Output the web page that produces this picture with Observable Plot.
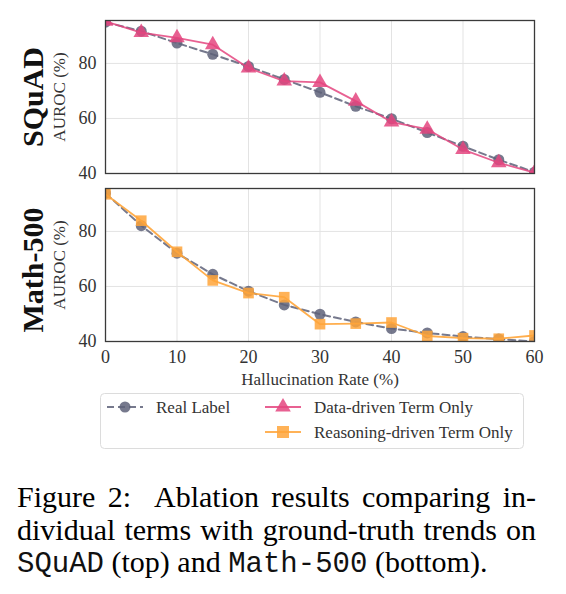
<!DOCTYPE html>
<html>
<head>
<meta charset="utf-8">
<script src="https://cdn.jsdelivr.net/npm/d3@7"></script>
<script src="https://cdn.jsdelivr.net/npm/@observablehq/plot@0.6"></script>
<style>
  html, body { margin: 0; padding: 0; background: #fff; }
  #wrap { position: relative; width: 566px; height: 594px; overflow: hidden; }
  #chart { position: absolute; left: 0; top: 0; }
  #legend { position: absolute; left: 0; top: 391px; }
  #caption { position: absolute; left: 17px; top: 481px; width: 519px;
    font-family: "Liberation Serif", "Times New Roman", serif; font-size: 30px; line-height: 32.5px; color: #000; }
  #caption .j { text-align: justify; text-align-last: justify; white-space: nowrap; }
  #caption .tt { font-family: "Liberation Mono", "Courier New", monospace; font-size: 29px; color: #111; }
</style>
</head>
<body>
<div id="wrap">
  <div id="chart"></div>
  <div id="legend"></div>
  <div id="caption">
    <div class="j">Figure 2:&nbsp; Ablation results comparing in-</div>
    <div class="j">dividual terms with ground-truth trends on</div>
    <div><span class="tt">SQuAD</span> (top) and <span class="tt">Math-500</span> (bottom).</div>
  </div>
</div>
<script>
const datasets = ["SQuAD", "Math-500"];
const rates = [0, 5, 10, 15, 20, 25, 30, 35, 40, 45, 50, 55, 60];
const squadReal = [95.0, 91.7, 87.4, 83.3, 78.9, 74.2, 69.5, 64.4, 59.9, 54.9, 49.9, 45.0, 40.5];
const squadData = [95.3, 91.2, 89.3, 86.8, 78.3, 73.6, 73.1, 66.3, 58.7, 56.1, 48.7, 43.9, 40.3];
const mathReal = [93.9, 82.1, 72.1, 64.4, 58.3, 53.3, 49.9, 47.1, 44.7, 43.1, 41.8, 40.9, 40.0];
const mathReason = [93.5, 83.9, 72.6, 62.2, 57.6, 56.1, 46.3, 46.5, 46.9, 42.0, 41.2, 41.0, 42.2];
const xTicks = [0, 10, 20, 30, 40, 50, 60];
const yTicks = [40, 60, 80];
const seriesNames = ["Real Label", "Data-driven Term Only", "Reasoning-driven Term Only"];

const colors = { "Real Label": "#5e6279", "Data-driven Term Only": "#e4457f", "Reasoning-driven Term Only": "#ffa53a" };
const serif = '"Liberation Serif", "Times New Roman", serif';

function rows(ds, series, values) {
  return values.map((v, i) => ({ ds, series, x: rates[i], y: v }));
}
const real = [...rows("SQuAD", seriesNames[0], squadReal), ...rows("Math-500", seriesNames[0], mathReal)];
const dataDriven = rows("SQuAD", seriesNames[1], squadData);
const reasoning = rows("Math-500", seriesNames[2], mathReason);

const chart = Plot.plot({
  width: 566,
  height: 391,
  marginLeft: 105,
  marginRight: 32,
  marginTop: 20,
  marginBottom: 50,
  style: { fontFamily: serif, color: "#333", background: "white" },
  x: { domain: [0, 60] },
  y: { domain: [40, 95.6] },
  fy: { domain: datasets, paddingInner: 0.0893, paddingOuter: 0, axis: null, label: null },
  marks: [
    Plot.gridX(xTicks.slice(1, -1), { stroke: "#e3e3e3", strokeOpacity: 1, strokeWidth: 1 }),
    Plot.gridY([60, 80], { stroke: "#e3e3e3", strokeOpacity: 1, strokeWidth: 1 }),
    Plot.axisY({ ticks: yTicks, tickSize: 0, tickPadding: 9, fontSize: 18, label: null, fill: "#333" }),
    Plot.axisX({ ticks: xTicks, tickSize: 0, tickPadding: 9, fontSize: 18, label: null, fill: "#333" }),
    Plot.line(real, { x: "x", y: "y", fy: "ds", stroke: colors["Real Label"], strokeOpacity: 0.85, strokeWidth: 2, strokeDasharray: "7,4", clip: true }),
    Plot.dot(real, { x: "x", y: "y", fy: "ds", symbol: "circle", r: 5.5, fill: colors["Real Label"], fillOpacity: 0.85, clip: true }),
    Plot.line(dataDriven, { x: "x", y: "y", fy: "ds", stroke: colors["Data-driven Term Only"], strokeOpacity: 0.85, strokeWidth: 1.8, clip: true }),
    Plot.dot(dataDriven, { x: "x", y: "y", fy: "ds", symbol: "triangle", r: 5.8, fill: colors["Data-driven Term Only"], fillOpacity: 0.85, clip: true }),
    Plot.line(reasoning, { x: "x", y: "y", fy: "ds", stroke: colors["Reasoning-driven Term Only"], strokeOpacity: 0.9, strokeWidth: 1.8, clip: true }),
    Plot.dot(reasoning, { x: "x", y: "y", fy: "ds", symbol: "square", r: 6, fill: colors["Reasoning-driven Term Only"], fillOpacity: 0.85, clip: true }),
    Plot.frame({ stroke: "#3a3a3a", strokeWidth: 1.3 }),
    Plot.text(["SQuAD"], { fy: d => d, text: d => d, frameAnchor: "left", dx: -72, rotate: -90, textAnchor: "middle", lineAnchor: "middle", fontSize: 30, fontWeight: "bold", fill: "#111" }),
    Plot.text(["Math-500"], { fy: d => d, text: d => d, frameAnchor: "left", dx: -72, dy: 5, rotate: -90, textAnchor: "middle", lineAnchor: "middle", fontSize: 30, fontWeight: "bold", fill: "#111" }),
    Plot.text(datasets, { fy: d => d, text: () => "AUROC (%)", frameAnchor: "left", dx: -46, rotate: -90, textAnchor: "middle", lineAnchor: "middle", fontSize: 17, fill: "#333" }),
    Plot.text(["Math-500"], { fy: d => d, text: () => "Hallucination Rate (%)", frameAnchor: "bottom", dy: 38, textAnchor: "middle", lineAnchor: "middle", fontSize: 17, fill: "#333" })
  ]
});
document.getElementById("chart").append(chart);

// Legend
const ns = "http://www.w3.org/2000/svg";
const lg = d3.select("#legend").append("svg").attr("xmlns", ns).attr("width", 566).attr("height", 64)
  .style("font-family", serif);
lg.append("rect").attr("x", 100.5).attr("y", 2.5).attr("width", 423).attr("height", 55).attr("rx", 4)
  .attr("fill", "white").attr("stroke", "#dcdcdc").attr("stroke-width", 1);
const items = [
  { name: seriesNames[0], x0: 107, y: 16, sym: "circle", dash: "7,4" },
  { name: seriesNames[1], x0: 265, y: 16, sym: "triangle", dash: null },
  { name: seriesNames[2], x0: 265, y: 41, sym: "square", dash: null }
];
for (const it of items) {
  const c = colors[it.name];
  const g = lg.append("g");
  g.append("line").attr("x1", it.x0).attr("x2", it.x0 + 36).attr("y1", it.y).attr("y2", it.y)
    .attr("stroke", c).attr("stroke-width", it.dash ? 2 : 1.8).attr("stroke-opacity", 0.85)
    .attr("stroke-dasharray", it.dash);
  const sym = it.sym === "circle" ? d3.symbolCircle : it.sym === "triangle" ? d3.symbolTriangle : d3.symbolSquare;
  const r = it.sym === "circle" ? 5.5 : it.sym === "triangle" ? 5.8 : 6;
  const size = it.sym === "square" ? 4 * r * r : Math.PI * r * r;
  g.append("path").attr("d", d3.symbol(sym, size)())
    .attr("transform", `translate(${it.x0 + 18},${it.y})`).attr("fill", c).attr("fill-opacity", 0.85);
  g.append("text").attr("x", it.x0 + 49).attr("y", it.y).attr("dy", "0.35em")
    .attr("font-size", 17).attr("fill", "#333").text(it.name);
}
</script>
</body>
</html>
